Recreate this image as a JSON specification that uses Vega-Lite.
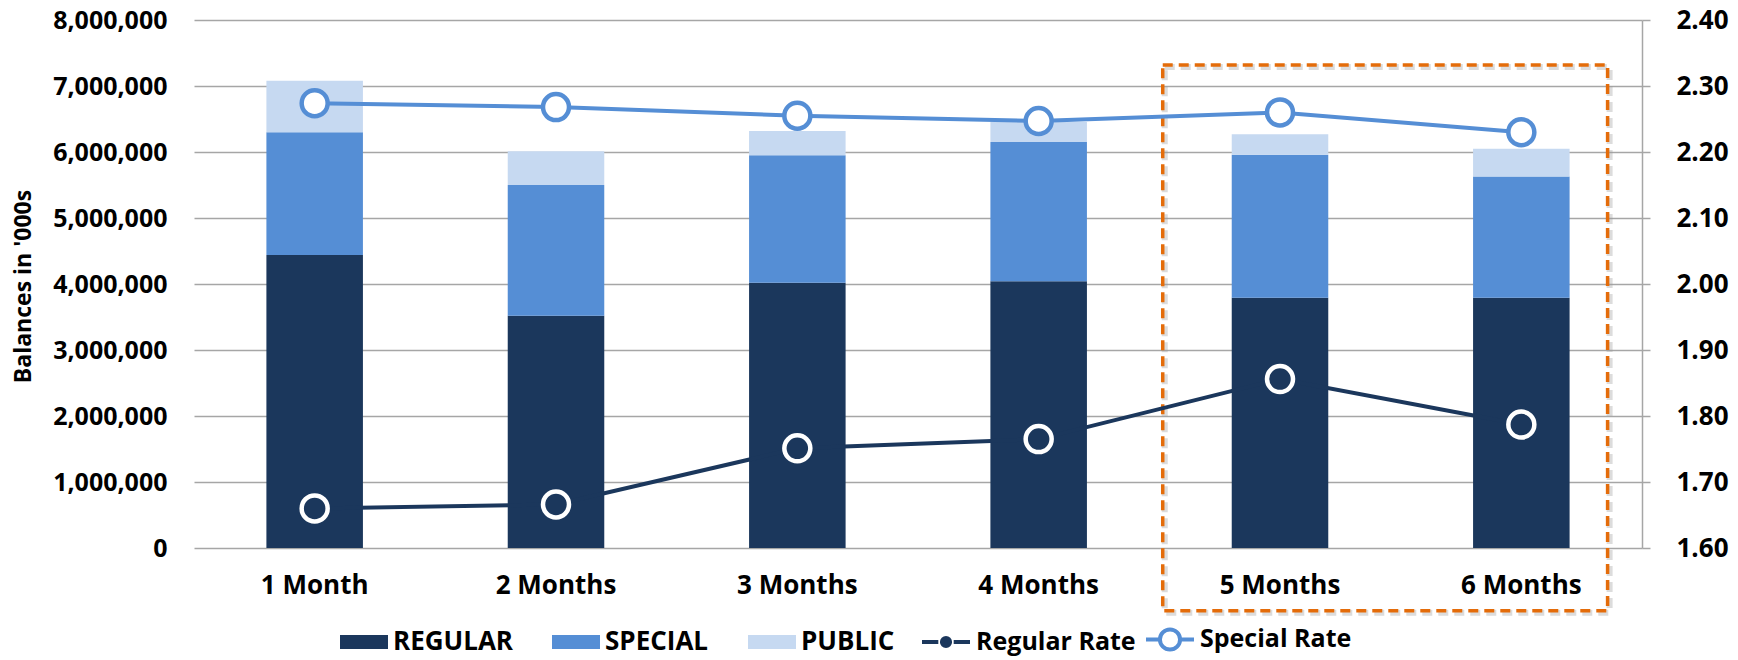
{
  "$schema": "https://vega.github.io/schema/vega-lite/v6.json",
  "width": 1448,
  "height": 528,
  "autosize": {"type": "none"},
  "padding": {"left": 194, "top": 20, "right": 96, "bottom": 112},
  "background": "white",
  "config": {
    "view": {"stroke": null},
    "font": "Open Sans",
    "axis": {
      "labelFont": "Open Sans",
      "labelFontWeight": "bold",
      "labelColor": "#000000",
      "titleFont": "Open Sans",
      "titleFontWeight": "bold",
      "titleColor": "#000000"
    },
    "legend": {
      "labelFont": "Open Sans",
      "labelFontWeight": "bold",
      "labelFontSize": 26,
      "labelColor": "#000000",
      "labelLimit": 400,
      "padding": 0
    }
  },
  "datasets": {
    "balances": [
      {"month": "1 Month", "component": "REGULAR", "rank": 1, "balance": 4440000},
      {"month": "1 Month", "component": "SPECIAL", "rank": 2, "balance": 1860000},
      {"month": "1 Month", "component": "PUBLIC", "rank": 3, "balance": 780000},
      {"month": "2 Months", "component": "REGULAR", "rank": 1, "balance": 3520000},
      {"month": "2 Months", "component": "SPECIAL", "rank": 2, "balance": 1980000},
      {"month": "2 Months", "component": "PUBLIC", "rank": 3, "balance": 510000},
      {"month": "3 Months", "component": "REGULAR", "rank": 1, "balance": 4020000},
      {"month": "3 Months", "component": "SPECIAL", "rank": 2, "balance": 1930000},
      {"month": "3 Months", "component": "PUBLIC", "rank": 3, "balance": 370000},
      {"month": "4 Months", "component": "REGULAR", "rank": 1, "balance": 4040000},
      {"month": "4 Months", "component": "SPECIAL", "rank": 2, "balance": 2110000},
      {"month": "4 Months", "component": "PUBLIC", "rank": 3, "balance": 305000},
      {"month": "5 Months", "component": "REGULAR", "rank": 1, "balance": 3790000},
      {"month": "5 Months", "component": "SPECIAL", "rank": 2, "balance": 2170000},
      {"month": "5 Months", "component": "PUBLIC", "rank": 3, "balance": 310000},
      {"month": "6 Months", "component": "REGULAR", "rank": 1, "balance": 3790000},
      {"month": "6 Months", "component": "SPECIAL", "rank": 2, "balance": 1840000},
      {"month": "6 Months", "component": "PUBLIC", "rank": 3, "balance": 420000}
    ],
    "rates": [
      {"month": "1 Month", "series": "Regular Rate", "rate": 1.660},
      {"month": "2 Months", "series": "Regular Rate", "rate": 1.666},
      {"month": "3 Months", "series": "Regular Rate", "rate": 1.751},
      {"month": "4 Months", "series": "Regular Rate", "rate": 1.765},
      {"month": "5 Months", "series": "Regular Rate", "rate": 1.856},
      {"month": "6 Months", "series": "Regular Rate", "rate": 1.787},
      {"month": "1 Month", "series": "Special Rate", "rate": 2.274},
      {"month": "2 Months", "series": "Special Rate", "rate": 2.268},
      {"month": "3 Months", "series": "Special Rate", "rate": 2.255},
      {"month": "4 Months", "series": "Special Rate", "rate": 2.247},
      {"month": "5 Months", "series": "Special Rate", "rate": 2.260},
      {"month": "6 Months", "series": "Special Rate", "rate": 2.230}
    ],
    "highlight": [
      {"from": "5 Months", "to": "6 Months", "balance": 7320000, "balance_low": -950000}
    ]
  },
  "layer": [
    {
      "layer": [
        {
          "data": {"name": "balances"},
          "mark": {"type": "bar"},
          "encoding": {
            "x": {
              "field": "month",
              "type": "nominal",
              "sort": ["1 Month", "2 Months", "3 Months", "4 Months", "5 Months", "6 Months"],
              "scale": {"paddingInner": 0.6, "paddingOuter": 0.3},
              "axis": {
                "title": null,
                "labelAngle": 0,
                "labelFontSize": 26,
                "labelBaseline": "alphabetic",
                "labelPadding": 45,
                "ticks": false,
                "tickSize": 0,
                "domain": false,
                "grid": false
              }
            },
            "y": {
              "field": "balance",
              "type": "quantitative",
              "stack": "zero",
              "scale": {"domain": [0, 8000000], "nice": false},
              "axis": {
                "title": "Balances in '000s",
                "titleFontSize": 23,
                "titleAngle": -90,
                "titleBaseline": "middle",
                "titleX": -171,
                "titleY": 266,
                "format": ",d",
                "values": [0, 1000000, 2000000, 3000000, 4000000, 5000000, 6000000, 7000000, 8000000],
                "labelOverlap": false,
                "labelFontSize": 25,
                "labelPadding": 27,
                "ticks": false,
                "tickSize": 0,
                "domain": false,
                "grid": true,
                "gridColor": "#a6a6a6",
                "gridWidth": 1.5
              }
            },
            "color": {
              "field": "component",
              "type": "nominal",
              "scale": {
                "domain": ["REGULAR", "SPECIAL", "PUBLIC"],
                "range": ["#1b375c", "#558ed5", "#c6d9f1"]
              },
              "legend": {
                "title": null,
                "orient": "none",
                "direction": "horizontal",
                "legendX": 146,
                "legendY": 598,
                "symbolType": "M-1,-0.29H1V0.29H-1Z",
                "symbolSize": 2304,
                "symbolStrokeWidth": 0,
                "labelOffset": 5,
                "columnPadding": 39
              }
            },
            "order": {"field": "rank", "type": "quantitative"}
          }
        },
        {
          "data": {"name": "highlight"},
          "mark": {
            "type": "rect",
            "filled": false,
            "stroke": "#9a9a9a",
            "strokeOpacity": 0.35,
            "strokeWidth": 6,
            "strokeDash": [10, 6],
            "xOffset": -67,
            "x2Offset": 40,
            "yOffset": 2,
            "y2Offset": 2
          },
          "encoding": {
            "x": {"field": "from", "type": "nominal", "bandPosition": 0},
            "x2": {"field": "to", "bandPosition": 1},
            "y": {"field": "balance", "type": "quantitative"},
            "y2": {"field": "balance_low"}
          }
        },
        {
          "data": {"name": "highlight"},
          "mark": {
            "type": "rect",
            "filled": false,
            "stroke": "#e46c0a",
            "strokeWidth": 3.5,
            "strokeDash": [10, 6],
            "xOffset": -69,
            "x2Offset": 38
          },
          "encoding": {
            "x": {"field": "from", "type": "nominal", "bandPosition": 0},
            "x2": {"field": "to", "bandPosition": 1},
            "y": {"field": "balance", "type": "quantitative"},
            "y2": {"field": "balance_low"}
          }
        }
      ]
    },
    {
      "data": {"name": "rates"},
      "layer": [
        {
          "mark": {"type": "line", "strokeWidth": 4},
          "encoding": {
            "x": {"field": "month", "type": "nominal"},
            "y": {
              "field": "rate",
              "type": "quantitative",
              "scale": {"domain": [1.6, 2.4], "nice": false, "zero": false},
              "axis": {
                "orient": "right",
                "title": null,
                "format": ".2f",
                "values": [1.6, 1.7, 1.8, 1.9, 2.0, 2.1, 2.2, 2.3, 2.4],
                "labelOverlap": false,
                "labelFontSize": 26,
                "labelPadding": 26,
                "ticks": true,
                "tickSize": 8,
                "tickColor": "#a6a6a6",
                "tickWidth": 1.5,
                "domain": true,
                "domainColor": "#a6a6a6",
                "domainWidth": 1.5,
                "grid": false
              }
            },
            "stroke": {
              "field": "series",
              "type": "nominal",
              "scale": {
                "domain": ["Regular Rate", "Special Rate"],
                "range": ["#1b375c", "#558ed5"]
              },
              "legend": {
                "title": null,
                "orient": "none",
                "direction": "horizontal",
                "legendX": 726,
                "legendY": 593,
                "labelFontSize": 25,
                "symbolSize": 2304,
                "symbolStrokeWidth": 4,
                "labelOffset": 4,
                "columnPadding": 2,
                "encode": {
                  "symbols": {
                    "update": {
                      "shape": {"signal": "datum.value === 'Regular Rate' ? 'M-1,0H-0.32M0.32,0H1M-0.17,0A0.17,0.17,0,1,0,0.17,0A0.17,0.17,0,1,0,-0.17,0Z' : 'M-1,0H-0.42M0.42,0H1M-0.42,0A0.42,0.42,0,1,0,0.42,0A0.42,0.42,0,1,0,-0.42,0Z'"},
                      "fill": {"signal": "datum.value === 'Regular Rate' ? '#1b375c' : '#ffffff'"},
                      "fillOpacity": {"value": 1}
                    }
                  }
                }
              }
            }
          }
        },
        {
          "mark": {"type": "point", "shape": "circle", "filled": true, "size": 676, "strokeWidth": 4.5, "opacity": 1},
          "encoding": {
            "x": {"field": "month", "type": "nominal"},
            "y": {"field": "rate", "type": "quantitative"},
            "fill": {
              "condition": {"test": "datum.series === 'Regular Rate'", "value": "#1b375c"},
              "value": "#ffffff"
            },
            "stroke": {
              "condition": {"test": "datum.series === 'Regular Rate'", "value": "#ffffff"},
              "value": "#558ed5"
            }
          }
        }
      ]
    }
  ],
  "resolve": {"scale": {"y": "independent"}}
}
